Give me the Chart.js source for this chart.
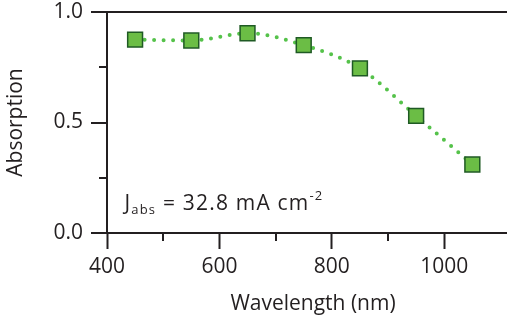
<!DOCTYPE html>
<html lang="en">
<head>
    <meta charset="UTF-8">
    <title>Absorption vs Wavelength</title>
    <style>
        html, body {
            margin: 0;
            padding: 0;
            background: #fff;
            overflow: hidden;
        }

        /* the reference is cropped on the right, so the canvas runs past the window */
        #wrap {
            position: relative;
            width: 531px;
            height: 323px;
        }
    </style>
    <script src="https://cdn.jsdelivr.net/npm/chart.js"></script>
</head>
<body>
    <div id="wrap"><canvas id="absChart"></canvas></div>

    <script>
        // Data
        const wavelengths = [450, 550, 650, 750, 850, 950, 1050];
        const absorption = [0.875, 0.871, 0.904, 0.85, 0.745, 0.53, 0.31];

        const xTicks = [400, 600, 800, 1000];
        const xMinorTicks = [500, 700, 900];
        const yTicks = [0.0, 0.5, 1.0];
        const yMinorTicks = [0.25, 0.75];

        // J_abs note, anchored in data units (left edge / baseline)
        const noteX = 431;
        const noteY = 0.104;

        const ink = '#231f20';
        const fontFamily = '"Open Sans", "Noto Sans", sans-serif';

        // Minor ticks and the J_abs text
        const extrasPlugin = {
            id: 'extras',
            afterDraw(chart) {
                const ctx = chart.ctx;
                const xs = chart.scales.x;
                const ys = chart.scales.y;
                const area = chart.chartArea;

                ctx.save();
                ctx.strokeStyle = ink;
                ctx.lineWidth = 2;
                ctx.beginPath();
                xMinorTicks.forEach(v => {
                    const px = Math.round(xs.getPixelForValue(v));
                    ctx.moveTo(px, area.bottom);
                    ctx.lineTo(px, area.bottom + 8);
                });
                yMinorTicks.forEach(v => {
                    const py = Math.round(ys.getPixelForValue(v));
                    ctx.moveTo(area.left, py);
                    ctx.lineTo(area.left - 8, py);
                });
                ctx.stroke();

                // J_abs = 32.8 mA cm^-2
                let x = xs.getPixelForValue(noteX);
                const y = ys.getPixelForValue(noteY);
                ctx.fillStyle = ink;
                ctx.textBaseline = 'alphabetic';
                ctx.textAlign = 'left';
                ctx.letterSpacing = '1.2px';
                const big = '21px ' + fontFamily;
                const small = '13px ' + fontFamily;
                const parts = [
                    { t: 'J', f: big, dy: 0 },
                    { t: 'abs', f: small, dy: 4 },
                    { t: ' = 32.8 mA cm', f: big, dy: 0 },
                    { t: '-2', f: small, dy: -10 }
                ];
                parts.forEach(p => {
                    ctx.font = p.f;
                    ctx.fillText(p.t, x, y + p.dy);
                    x += ctx.measureText(p.t).width;
                });
                ctx.restore();
            }
        };

        const ctx = document.getElementById('absChart').getContext('2d');
        new Chart(ctx, {
            type: 'line',
            data: {
                datasets: [{
                    label: 'Absorption',
                    data: wavelengths.map((w, i) => ({ x: w, y: absorption[i] })),
                    borderColor: '#55c24a',
                    borderWidth: 4,
                    borderDash: [0, 9.5],
                    borderCapStyle: 'round',
                    tension: 0.4,
                    cubicInterpolationMode: 'monotone',
                    pointStyle: 'rect',
                    pointRadius: 10.5,
                    pointHoverRadius: 10.5,
                    pointBackgroundColor: '#6bbd45',
                    pointBorderColor: '#1f5a24',
                    pointBorderWidth: 1.5,
                    clip: false
                }]
            },
            options: {
                responsive: true,
                maintainAspectRatio: false,
                animation: false,
                layout: {
                    padding: { top: 11, left: 0, right: 0, bottom: 0 }
                },
                plugins: {
                    legend: { display: false },
                    tooltip: { enabled: false }
                },
                scales: {
                    x: {
                        type: 'linear',
                        min: 400,
                        max: 1133,
                        afterBuildTicks: s => { s.ticks = xTicks.map(v => ({ value: v })); },
                        afterFit: s => { s.height = 90; },
                        ticks: {
                            color: ink,
                            font: { family: fontFamily, size: 21 },
                            padding: 5,
                            maxRotation: 0,
                            callback: v => String(v)
                        },
                        grid: {
                            drawOnChartArea: false,
                            tickLength: 16,
                            tickWidth: 2,
                            tickColor: ink
                        },
                        border: { color: ink, width: 2 },
                        title: {
                            display: true,
                            text: 'Wavelength (nm)',
                            color: ink,
                            font: { family: fontFamily, size: 21 },
                            padding: { top: 0, bottom: 6 }
                        }
                    },
                    y: {
                        min: 0,
                        max: 1,
                        afterBuildTicks: s => { s.ticks = yTicks.map(v => ({ value: v })); },
                        afterFit: s => { s.width = 107; s.paddingTop = 0; s.paddingBottom = 0; },
                        ticks: {
                            color: ink,
                            font: { family: fontFamily, size: 21 },
                            padding: 8,
                            callback: v => v.toFixed(1)
                        },
                        grid: {
                            drawOnChartArea: true,
                            color: c => (c.tick && c.tick.value === 1) ? ink : 'rgba(0,0,0,0)',
                            lineWidth: 2,
                            tickLength: 16,
                            tickWidth: 2,
                            tickColor: ink
                        },
                        border: { color: ink, width: 2 },
                        title: {
                            display: true,
                            text: 'Absorption',
                            color: ink,
                            font: { family: fontFamily, size: 21 },
                            padding: { top: 3, bottom: 0 }
                        }
                    }
                }
            },
            plugins: [extrasPlugin]
        });
    </script>
</body>
</html>
